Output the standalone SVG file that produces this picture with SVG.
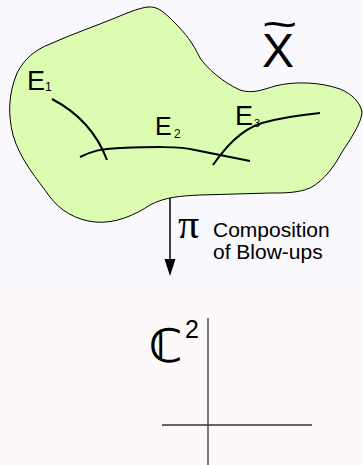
<svg xmlns="http://www.w3.org/2000/svg" width="363" height="465" viewBox="0 0 363 465">
  <style>
    .sans { font-family: "Liberation Sans", Arial, sans-serif; fill: #000; }
    .curve { fill: none; stroke: #000; stroke-width: 2; stroke-linecap: butt; }
    .axis { fill: none; stroke: #333; stroke-width: 1.3; }
  </style>
  <rect x="0" y="0" width="363" height="283" fill="#f9f8fd"/>
  <rect x="0" y="283" width="363" height="182" fill="#fdf9fa"/>

  <g id="blowup-space">
    <path d="M148,7 C158,6 165,13 175,23 C185,33 193,43 200,58 C207,68 222,82 240,90 C252,94 262,90 275,86 C295,81 320,82 340,89 C352,94 360,102 362,112 C362,122 350,140 342,152 C335,165 325,180 310,188 C298,193 285,193 270,193 L200,195 C180,196 165,197 150,205 C135,215 115,224 95,222 C75,220 60,210 50,197 C38,180 20,160 13,135 C8,115 8,95 17,73 C25,58 35,50 50,44 C70,35 90,28 110,20 C125,14 138,8 148,7 Z" fill="#dcfdb1" stroke="#000" stroke-width="1"/>
    <path class="curve" d="M52,99 Q92,120 107,160"/>
    <path class="curve" d="M80,157 C92,151 100,149 120,148 C150,147 180,146 195,150 C215,154 235,158 250,161"/>
    <path class="curve" d="M213,165 C225,148 240,130 262,123 C280,118 300,115 320,113"/>
    <text class="sans" x="27" y="90" font-size="27">E</text>
    <text class="sans" x="45" y="91" font-size="12">1</text>
    <text class="sans" x="155" y="135" font-size="25">E</text>
    <text class="sans" x="174" y="138" font-size="12">2</text>
    <text class="sans" x="235" y="125" font-size="27">E</text>
    <text class="sans" x="254" y="127" font-size="11">3</text>
    <text class="sans" x="262" y="67" font-size="48">X</text>
    <text class="sans" font-size="42" transform="translate(262,39) scale(1.45,1)">~</text>
  </g>

  <g id="connectors">
    <line x1="170" y1="198" x2="170" y2="262" stroke="#000" stroke-width="1.5"/>
    <polygon points="164.5,259 175.5,259 170,276" fill="#000"/>
  </g>

  <g id="map-label">
    <text x="178" y="238" font-size="42" font-family="'Liberation Serif', 'Times New Roman', serif">π</text>
    <text class="sans" x="213" y="237" font-size="21">Composition</text>
    <text class="sans" x="213" y="259" font-size="21">of Blow-ups</text>
  </g>

  <g id="plane">
    <line class="axis" x1="208" y1="318" x2="208" y2="465"/>
    <line class="axis" x1="162" y1="425" x2="312" y2="425"/>
    <text x="149" y="362" font-size="46" font-weight="bold" font-family="'DejaVu Sans', 'Liberation Sans', sans-serif">ℂ</text>
    <text class="sans" x="185" y="338" font-size="25">2</text>
  </g>
</svg>
